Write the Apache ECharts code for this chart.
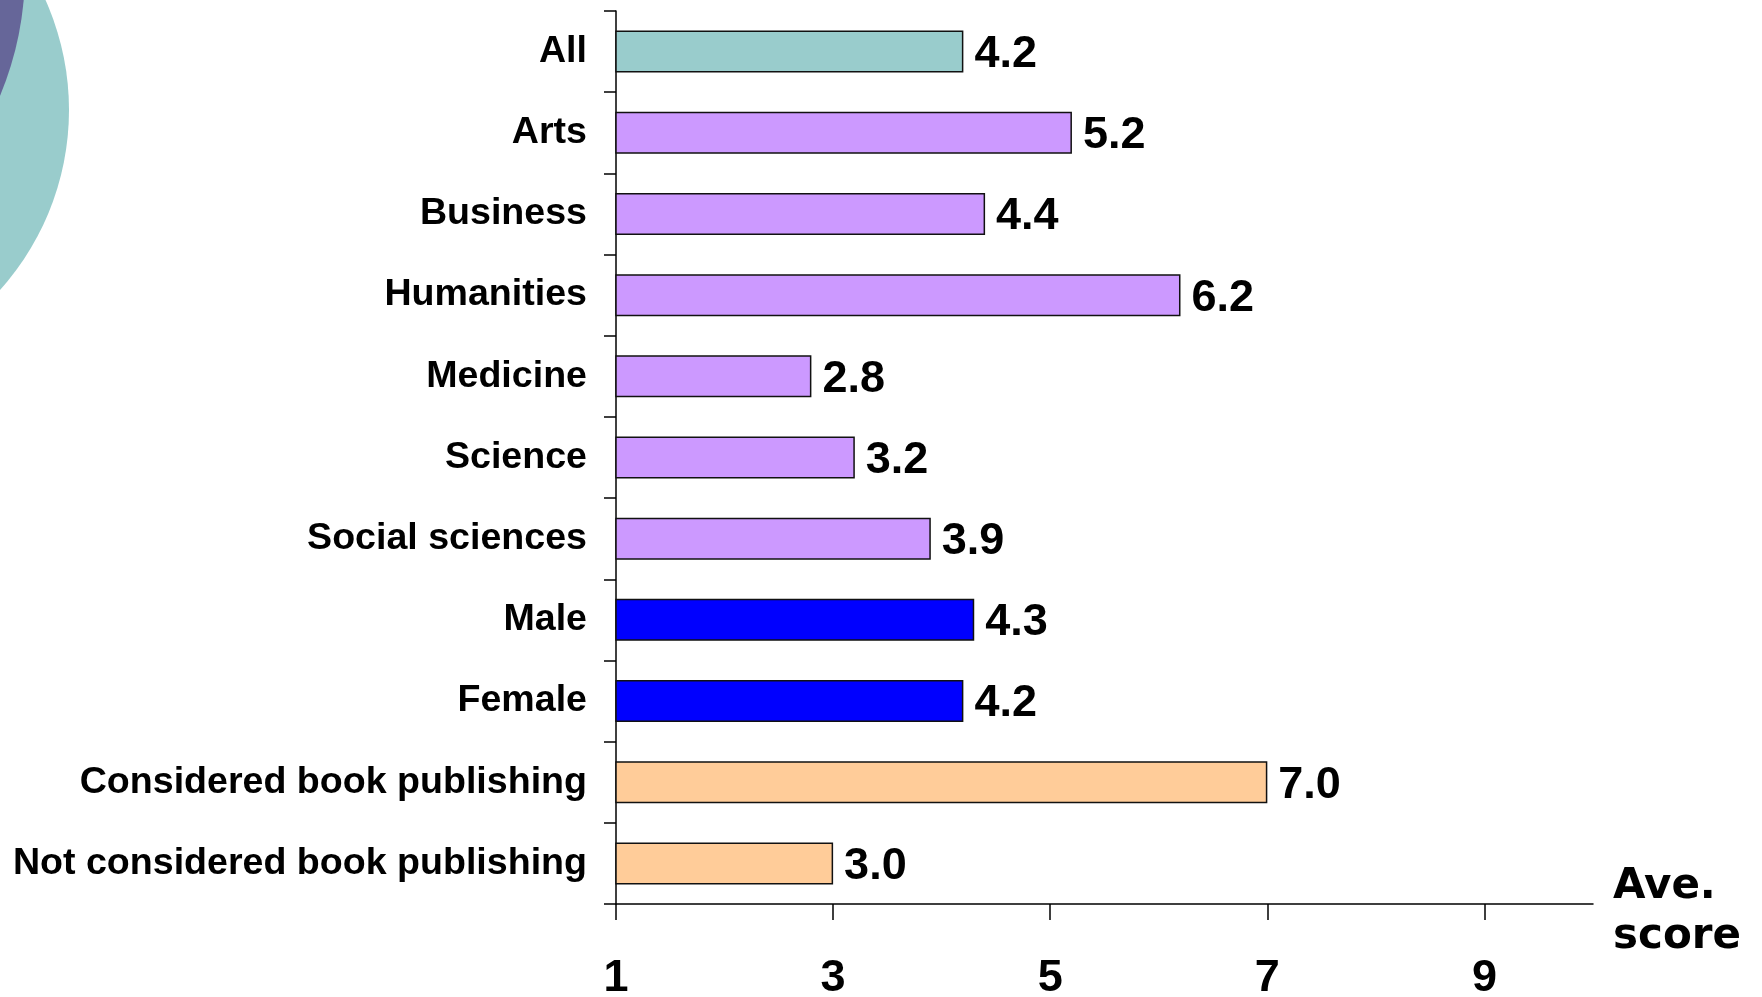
<!DOCTYPE html>
<html>
<head>
<meta charset="utf-8">
<title>Ave. score</title>
<script src="https://cdn.jsdelivr.net/npm/echarts@6/dist/echarts.min.js"></script>
<style>
  html, body { margin: 0; padding: 0; background: #fff; }
  #main { width: 1762px; height: 997px; }
</style>
</head>
<body>
<div id="main"></div>
<script type="text/javascript">
// data
var categories = ['All', 'Arts', 'Business', 'Humanities', 'Medicine', 'Science',
    'Social sciences', 'Male', 'Female', 'Considered book publishing', 'Not considered book publishing'];
var scores = [4.2, 5.2, 4.4, 6.2, 2.8, 3.2, 3.9, 4.3, 4.2, 7.0, 3.0];
var groups = ['all', 'field', 'field', 'field', 'field', 'field', 'field', 'gender', 'gender', 'book', 'book'];
var xTicks = [1, 3, 5, 7, 9];
var axisTitle = 'Ave.\nscore';

// colours per group
var groupColor = { all: '#99CCCC', field: '#CC99FF', gender: '#0000FF', book: '#FFCC99' };

var labelFont = 'Liberation Sans, Arial, sans-serif';

var myChart = echarts.init(document.getElementById('main'));
var option = {
    animation: false,
    grid: { left: 616, right: 169, top: 11, bottom: 93, containLabel: false, outerBoundsMode: 'none' },
    graphic: [
        // decorative circles, top-left corner
        { type: 'circle', shape: { cx: -200, cy: 110, r: 269 }, style: { fill: '#99CCCC' }, z: -10 },
        { type: 'circle', shape: { cx: -300, cy: -29, r: 325 }, style: { fill: '#666699' }, z: -9 },
        // x axis title
        {
            type: 'text', left: 1613, top: 862,
            style: {
                text: axisTitle,
                fill: '#000',
                font: 'bold 42px "DejaVu Sans", Verdana, sans-serif',
                lineHeight: 50
            }
        }
    ],
    xAxis: {
        type: 'value',
        min: 1,
        max: 10,
        axisLine: { show: true, lineStyle: { color: '#000', width: 1.5 } },
        axisTick: { show: true, length: 16, customValues: xTicks, lineStyle: { color: '#000', width: 1.5 } },
        axisLabel: {
            customValues: xTicks,
            margin: 52,
            fontFamily: labelFont,
            fontWeight: 'bold',
            fontSize: 45,
            color: '#000'
        },
        splitLine: { show: false }
    },
    yAxis: {
        type: 'category',
        inverse: true,
        data: categories,
        axisLine: { show: true, lineStyle: { color: '#000', width: 1.5 } },
        axisTick: { show: true, length: 12, lineStyle: { color: '#000', width: 1.5 } },
        axisLabel: {
            margin: 29,
            fontFamily: labelFont,
            fontWeight: 'bold',
            fontSize: 37.6,
            color: '#000'
        }
    },
    series: [{
        type: 'bar',
        barWidth: 42,
        clip: true,
        data: scores.map(function (v, i) {
            return { value: v, itemStyle: { color: groupColor[groups[i]] } };
        }),
        itemStyle: { borderColor: '#111', borderWidth: 1.5 },
        label: {
            show: true,
            position: 'right',
            distance: 11,
            offset: [0, 3],
            fontFamily: labelFont,
            fontWeight: 'bold',
            fontSize: 45,
            color: '#000',
            formatter: function (p) { return p.value.toFixed(1); }
        }
    }]
};
myChart.setOption(option);
</script>
</body>
</html>
